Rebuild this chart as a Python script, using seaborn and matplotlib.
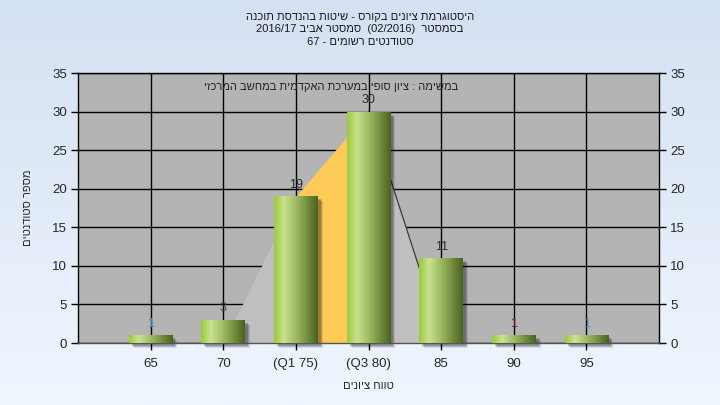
import re
import numpy as np
import matplotlib
matplotlib.use('Agg')
import matplotlib.pyplot as plt
import seaborn as sns
from matplotlib.colors import LinearSegmentedColormap
from matplotlib.patches import Rectangle
from matplotlib.transforms import ScaledTranslation

# data
categories = ["65", "70", "(Q1 75)", "(Q3 80)", "85", "90", "95"]
counts = [1, 3, 19, 30, 11, 1, 1]
label_colors = ["#3a8ec4", "#2c4c6c", "#2a2a2a", "#2a2a2a", "#2a2a2a", "#7a1c1c", "#3a8ec4"]

# spread area (light gray) and inter-quartile area (orange), by category index
spread_pos = [1, 2, 3, 4]
spread_val = [0, 19, 30, 1]
iqr_pos = [2, 3]
iqr_val = [19, 30]

title_lines = [
    "היסטוגרמת ציונים בקורס - שיטות בהנדסת תוכנה",
    "בסמסטר  (02/2016)  סמסטר אביב 2016/17",
    "סטודנטים רשומים - 67",
]
note_text = "במשימה : ציון סופי במערכת האקדמית במחשב המרכזי"
x_label = "טווח ציונים"
y_label = "מספר סטודנטים"
y_ticks = [0, 5, 10, 15, 20, 25, 30, 35]


def rtl(s):
    # matplotlib draws left to right, so flip the Hebrew and keep number runs
    r = s[::-1]
    r = re.sub(r'[0-9A-Za-z/]+', lambda m: m.group(0)[::-1], r)
    return r.translate(str.maketrans('()', ')('))


sns.set_style("white")
plt.rcParams['font.family'] = ['Liberation Sans', 'DejaVu Sans']

fig = plt.figure(figsize=(7.2, 4.05), dpi=100)

# light blue gradient background
bg = fig.add_axes([0, 0, 1, 1], zorder=-10)
bg_cmap = LinearSegmentedColormap.from_list('bg', ['#d4e1f2', '#eff6fe'])
bg.imshow(np.linspace(0, 1, 200)[:, None], cmap=bg_cmap, aspect='auto', extent=[0, 1, 0, 1])
bg.axis('off')

ax = fig.add_axes([78 / 720, 1 - 343 / 405, 581 / 720, 270 / 405])
ax.set_facecolor('#b4b4b4')

# spread + quartile areas
ax.fill_between(spread_pos, spread_val, 0, color='#bfbfbf', lw=0, zorder=1)
ax.plot(spread_pos[2:], spread_val[2:], color='#3a3a3a', lw=0.9, zorder=1.2)
ax.fill_between(iqr_pos, iqr_val, 0, color='#fdc957', lw=0, zorder=1.5)

sns.barplot(x=categories, y=counts, width=0.6, color='#8fb04a', ax=ax, zorder=3)

# seaborn turns the category grid off, put it back
ax.set_axisbelow(True)
ax.grid(True, axis='both', color='black', lw=1.0)

bar_cmap = LinearSegmentedColormap.from_list(
    'bar', [(0, '#9acb3c'), (0.22, '#c9e28f'), (0.55, '#97b35a'), (1, '#4a6322')])
for i, p in enumerate(ax.patches):
    x0, w, h = p.get_x(), p.get_width(), p.get_height()
    p.set_edgecolor('none')
    # soft shadow to the right
    for dx, a in [(5, 0.10), (4, 0.15), (3, 0.2)]:
        off = ScaledTranslation(dx / 100, -dx / 100, fig.dpi_scale_trans)
        sh = Rectangle((x0, 0), w, h, transform=ax.transData + off, color='black',
                       alpha=a, lw=0, zorder=2.5, clip_on=False)
        ax.add_patch(sh)
    im = ax.imshow(np.linspace(0, 1, 64)[None, :], cmap=bar_cmap, aspect='auto',
                   extent=[x0, x0 + w, 0, h], zorder=3.1)
    im.set_clip_path(p)
    ax.text(i, counts[i] + 0.7, str(counts[i]), ha='center', va='bottom',
            fontsize=9, color=label_colors[i], zorder=5)

ax.set_xlim(-1, 7)
ax.set_ylim(0, 35)
ax.set_yticks(y_ticks)
ax.set_xticks(range(len(categories)))
ax.set_xticks([-1, 7], minor=True)
ax.set_xticklabels(categories)
ax.tick_params(axis='both', which='both', direction='out', length=5, width=1,
               color='black', labelsize=9.5, pad=3)
ax.tick_params(axis='y', right=True, labelright=True, left=True)
ax.tick_params(axis='x', bottom=True, pad=6)
for s in ax.spines.values():
    s.set_color('black')
    s.set_linewidth(1)
    s.set_visible(True)
ax.spines['bottom'].set_color('#555555')

ax.set_xlabel(rtl(x_label), fontsize=8, labelpad=8)
ax.set_ylabel(rtl(y_label), fontsize=8, labelpad=14)

ax.text(0.435, 0.95, rtl(note_text), transform=ax.transAxes, ha='center', va='center',
        fontsize=8, color='#222222', zorder=6)

for k, line in enumerate(title_lines):
    fig.text(0.5, 1 - (17 + 12.5 * k) / 405, rtl(line), ha='center', va='center',
             fontsize=8, color='#1a1a1a')

fig.savefig('out.png', dpi=100)
